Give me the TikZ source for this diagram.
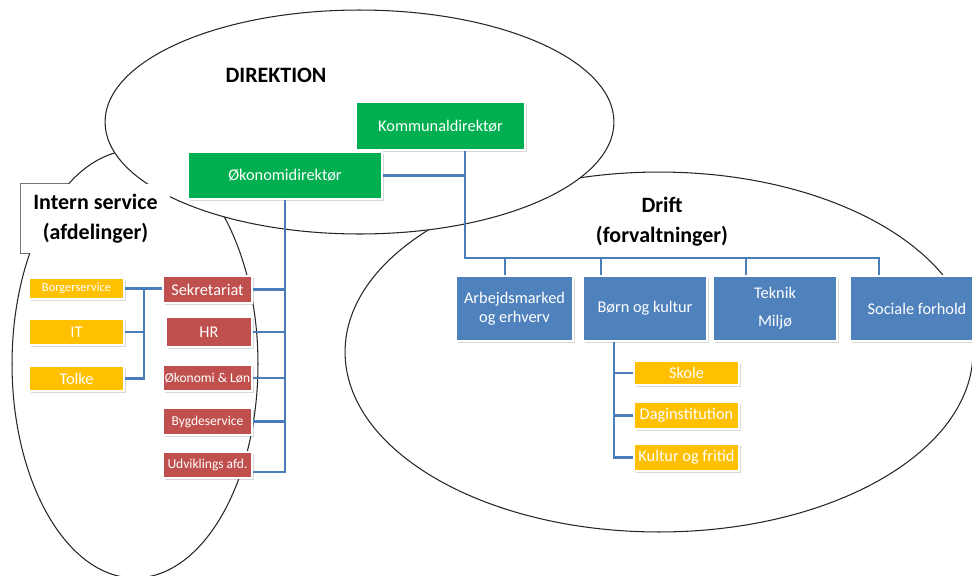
\documentclass[tikz,border=0pt]{standalone}
\usepackage{fontspec}
\setmainfont{Carlito}
\usetikzlibrary{shadows}
\definecolor{okgreen}{HTML}{00B050}
\definecolor{okblue}{HTML}{4F81BD}
\definecolor{okred}{HTML}{C0504D}
\definecolor{okgold}{HTML}{FFC000}
\definecolor{linkblue}{HTML}{4A7EBB}
\tikzset{unit/.style={
            draw=white,
            line width=1pt,
            text=white,
            inner sep=1pt,
            align=center,
            font=\fontsize{9.3}{11}\selectfont,
            drop shadow={shadow xshift=0.9pt, shadow yshift=-1.2pt, opacity=0.3}
        },
        direktor/.style={
            unit,
            fill=okgreen
        },
        forvaltning/.style={
            unit,
            fill=okblue,
            minimum height=1.3cm
        },
        afdeling/.style={
            unit,
            fill=okred,
            minimum width=1.78cm
        },
        underenhed/.style={
            unit,
            fill=okgold
        },
        smalltext/.style={
            font=\fontsize{7.7}{9}\selectfont
        },
        area/.style={
            draw=black!85,
            line width=0.6pt,
            fill=white
        },
        heading/.style={
            font=\fontsize{12.5}{17}\selectfont\bfseries,
            align=center
        },
        link/.style={
            draw=linkblue,
            line width=1.2pt
        }
    }

\begin{document}
\begin{tikzpicture}[x=0.02cm,y=-0.02cm]
        \useasboundingbox (0,0) rectangle (972,575);
        \clip (0,0) rectangle (972,575);
        % the three areas
        \draw[area] (135,364) ellipse [x radius=2.46cm, y radius=4.28cm];
        \draw[area] (659,352) ellipse [x radius=6.28cm, y radius=3.6cm];
        \draw[area] (359.5,122) ellipse [x radius=5.09cm, y radius=2.24cm];
        % label box, border only outside the areas
        \node[fill=white, minimum width=2.98cm, minimum height=1.38cm] (internbox) at (95.5,218.5) {};
        \begin{scope}[even odd rule]
            \clip (0,0) rectangle (972,575) (135,364) ellipse [x radius=2.47cm, y radius=4.29cm];
            \clip (0,0) rectangle (972,575) (359.5,122) ellipse [x radius=5.10cm, y radius=2.25cm];
            \draw[black!55, line width=0.5pt] (internbox.south west) rectangle (internbox.north east);
        \end{scope}
        \node[heading] (intern) at (internbox) {Intern service\\(afdelinger)};
        \node[heading] (direktion) at (276,75) {DIREKTION};
        \node[heading] (drift) at (662,222) {Drift\\(forvaltninger)};
        % direktion
        \node[direktor, minimum width=3.38cm, minimum height=0.96cm] (kd) at (440.5,126) {Kommunaldirektør};
        \node[direktor, minimum width=3.88cm, minimum height=0.94cm] (od) at (285,175.5) {Økonomidirektør};
        % forvaltninger
        \node[forvaltning, minimum width=2.34cm] (arb) at (514.5,308.5) {Arbejdsmarked\\og erhverv};
        \node[forvaltning, minimum width=2.48cm] (born) at (645,308.5) {Børn og kultur};
        \node[forvaltning, minimum width=2.48cm] (tek) at (775,308.5) {Teknik\\[5pt]Miljø};
        \node[forvaltning, minimum width=2.68cm] (soc) at (917,308.5) {Sociale forhold};
        \node[underenhed, minimum width=2.1cm, minimum height=0.48cm] (skole) at (686.5,373) {Skole};
        \node[underenhed, minimum width=2.1cm, minimum height=0.54cm] (dag) at (686.5,415.5) {Daginstitution};
        \node[underenhed, minimum width=2.1cm, minimum height=0.54cm] (fritid) at (686.5,457.5) {Kultur og fritid};
        % afdelinger
        \node[afdeling, minimum height=0.54cm] (sek) at (207.5,289.5) {Sekretariat};
        \node[afdeling, minimum width=1.72cm, minimum height=0.6cm] (hr) at (209,332) {HR};
        \node[afdeling, smalltext, minimum height=0.52cm] (okl) at (207.5,378) {Økonomi \& Løn};
        \node[afdeling, smalltext, minimum height=0.54cm] (bygd) at (207.5,421.5) {Bygdeservice};
        \node[afdeling, smalltext, minimum height=0.52cm] (udv) at (207.5,465) {Udviklings afd.};
        \node[underenhed, font=\fontsize{7.1}{8}\selectfont, minimum width=1.9cm, minimum height=0.42cm] (borger) at (76.5,288.5) {Borgerservice};
        \node[underenhed, minimum width=1.9cm, minimum height=0.52cm] (it) at (76.5,332) {IT};
        \node[underenhed, minimum width=1.9cm, minimum height=0.5cm] (tolke) at (76.5,378.5) {Tolke};
        % connectors
        \coordinate (bus) at (465,258);
        \coordinate (lbus) at (144,288.5);
        \draw[link] (od.east) -- (od.east -| bus);
        \draw[link] (kd.south -| bus) -- (bus) -- ([xshift=-21.6pt]soc.north |- bus) -- ([xshift=-21.6pt]soc.north);
        \draw[link] ([xshift=-5.4pt]arb.north) -- ([xshift=-5.4pt]arb.north |- bus);
        \draw[link] ([xshift=-25pt]born.north) -- ([xshift=-25pt]born.north |- bus);
        \draw[link] ([xshift=-16.5pt]tek.north) -- ([xshift=-16.5pt]tek.north |- bus);
        \draw[link] ([xshift=-17.6pt]born.south) |- (fritid.west);
        \draw[link] ([xshift=-17.6pt]born.south |- skole.west) -- (skole.west);
        \draw[link] ([xshift=-17.6pt]born.south |- dag.west) -- (dag.west);
        \draw[link] (od.south) |- ([yshift=-4pt]udv.east);
        \foreach \n in {sek,hr,okl,bygd}
            \draw[link] (od.south |- \n.east) -- (\n.east);
        \draw[link] (borger.east) -- (borger.east -| sek.west);
        \draw[link] (lbus) |- (tolke.east);
        \draw[link] (lbus |- it.east) -- (it.east);
    \end{tikzpicture}
\end{document}
